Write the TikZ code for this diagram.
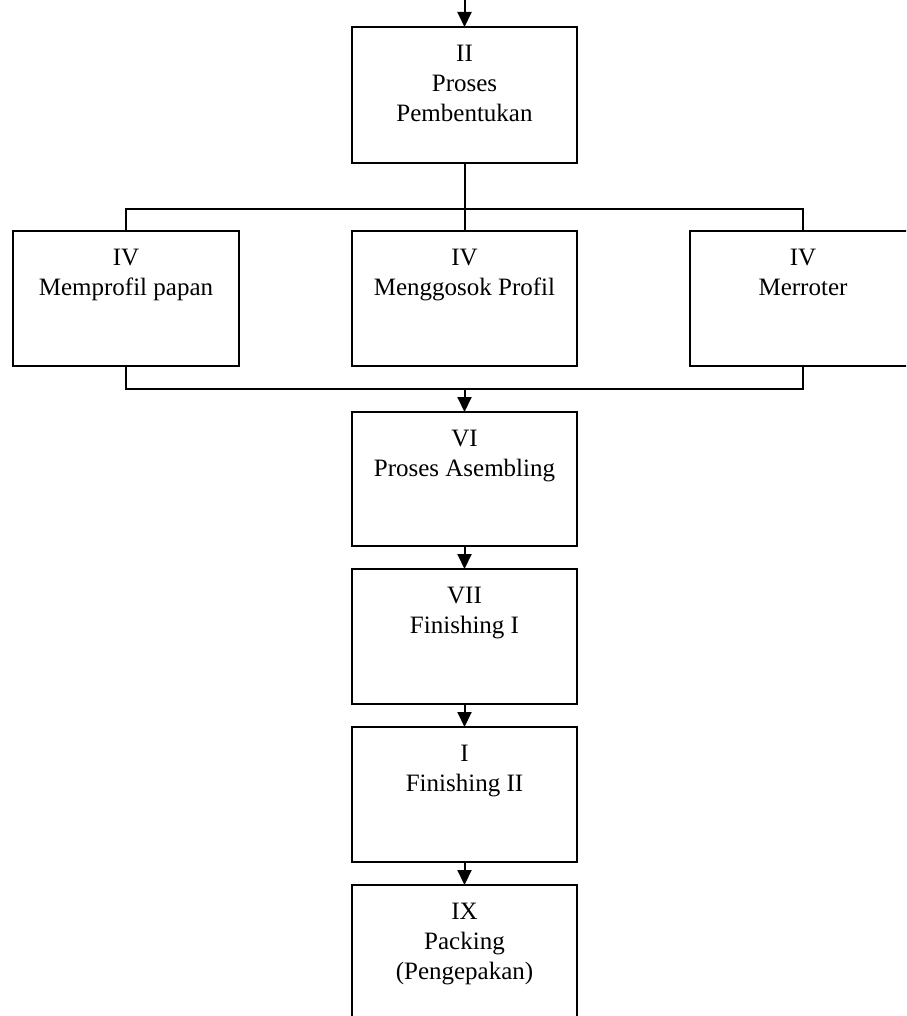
\documentclass[tikz,border=0pt]{standalone}
\usepackage{fontspec}
\setmainfont{Liberation Serif}
\usetikzlibrary{arrows.meta}
\begin{document}
\begin{tikzpicture}[x=1pt,y=-1pt,
  box/.style={draw, line width=2pt, minimum width=225pt, minimum height=135pt, inner sep=0pt, outer sep=0pt, anchor=north west},
  wide/.style={minimum width=226pt},
  lbl/.style={anchor=north, inner sep=0pt, yshift=-17.5pt, align=center, font=\fontsize{25}{30}\selectfont},
  conn/.style={line width=2pt, line join=miter},
  arr/.style={conn, -{Triangle[length=15pt,width=14pt]}}]
\useasboundingbox (0,0) rectangle (906,1016);
\clip (0,0) rectangle (906,1016);
% boxes
\node[box, minimum height=136pt, label={[lbl]north:{II\\Proses\\Pembentukan}}] (II) at (352,27) {};
\node[box, wide, label={[lbl]north:{IV\\Memprofil papan}}] (L) at (13,231) {};
\node[box, label={[lbl]north:{IV\\Menggosok Profil}}] (M) at (352,231) {};
\node[box, wide, label={[lbl]north:{IV\\Merroter}}] (R) at (690,231) {};
\node[box, minimum height=134pt, label={[lbl]north:{VI\\Proses Asembling}}] (VI) at (352,412) {};
\node[box, label={[lbl]north:{VII\\Finishing I}}] (VII) at (352,569) {};
\node[box, label={[lbl]north:{I\\Finishing II}}] (I) at (352,727) {};
\node[box, label={[lbl]north:{IX\\Packing\\(Pengepakan)}}] (IX) at (352,885) {};
% coordinates
\coordinate (top) at (II.north |- 0,0);
\coordinate (tM) at (II.south |- 0,209);
\coordinate (tL) at (L.north |- 0,209);
\coordinate (tR) at (R.north |- 0,209);
\coordinate (bM) at (VI.north |- 0,389);
\coordinate (bL) at (L.south |- 0,389);
\coordinate (bR) at (R.south |- 0,389);
% connectors
\draw[arr] (top) -- (II.north);
\draw[conn] (II.south) -- (tM);
\draw[conn] (L.north) -- (tL) -- (tR) -- (R.north);
\draw[conn] (tM) -- (M.north);
\draw[conn] (L.south) -- (bL) -- (bR) -- (R.south);
\draw[arr] (bM) -- (VI.north);
\draw[arr] (VI.south) -- (VII.north);
\draw[arr] (VII.south) -- (I.north);
\draw[arr] (I.south) -- (IX.north);
\end{tikzpicture}
\end{document}
